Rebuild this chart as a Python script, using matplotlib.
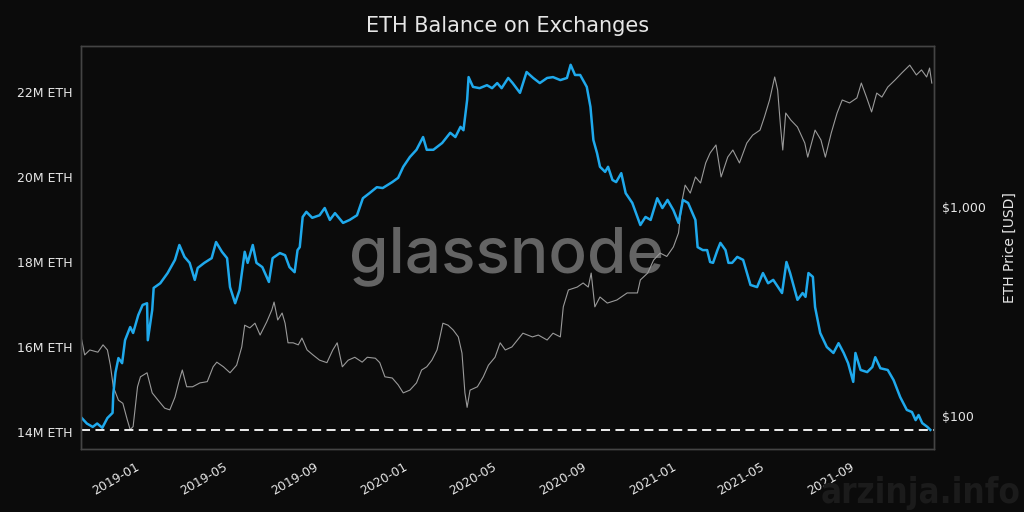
import pandas as pd
import matplotlib
matplotlib.use("Agg")
import matplotlib.pyplot as plt
import matplotlib.ticker as mticker
import matplotlib.dates as mdates

# ── data ────────────────────────────────────────────────────────
bal_dates = [
    "2018-10-11", "2018-10-18", "2018-10-26", "2018-11-01", "2018-11-08", "2018-11-15",
    "2018-11-22", "2018-11-23", "2018-11-26", "2018-11-30", "2018-12-05", "2018-12-09",
    "2018-12-16", "2018-12-20", "2018-12-27", "2019-01-02", "2019-01-08", "2019-01-09",
    "2019-01-15", "2019-01-17", "2019-01-26", "2019-02-05", "2019-02-15", "2019-02-21",
    "2019-02-28", "2019-03-07", "2019-03-14", "2019-03-18", "2019-03-27", "2019-04-06",
    "2019-04-12", "2019-04-20", "2019-04-27", "2019-05-01", "2019-05-08", "2019-05-14",
    "2019-05-21", "2019-05-25", "2019-06-01", "2019-06-06", "2019-06-14", "2019-06-23",
    "2019-06-28", "2019-07-08", "2019-07-15", "2019-07-21", "2019-07-28", "2019-08-01",
    "2019-08-04", "2019-08-08", "2019-08-13", "2019-08-21", "2019-08-31", "2019-09-07",
    "2019-09-14", "2019-09-21", "2019-10-02", "2019-10-11", "2019-10-21", "2019-10-29",
    "2019-11-07", "2019-11-17", "2019-11-25", "2019-12-08", "2019-12-16", "2019-12-23",
    "2020-01-01", "2020-01-10", "2020-01-19", "2020-01-24", "2020-02-02", "2020-02-14",
    "2020-02-25", "2020-03-03", "2020-03-10", "2020-03-14", "2020-03-19", "2020-03-21",
    "2020-03-27", "2020-04-05", "2020-04-15", "2020-04-22", "2020-04-29", "2020-05-05",
    "2020-05-14", "2020-05-20", "2020-05-30", "2020-06-08", "2020-06-17", "2020-06-26",
    "2020-07-06", "2020-07-14", "2020-07-24", "2020-08-02", "2020-08-07", "2020-08-13",
    "2020-08-20", "2020-08-29", "2020-09-03", "2020-09-07", "2020-09-12", "2020-09-16",
    "2020-09-23", "2020-09-27", "2020-10-03", "2020-10-08", "2020-10-15", "2020-10-21",
    "2020-10-30", "2020-11-06", "2020-11-10", "2020-11-17", "2020-11-24", "2020-12-03",
    "2020-12-10", "2020-12-17", "2020-12-25", "2021-01-01", "2021-01-07", "2021-01-14",
    "2021-01-20", "2021-01-24", "2021-01-27", "2021-02-03", "2021-02-09", "2021-02-13",
    "2021-02-17", "2021-02-23", "2021-02-27", "2021-03-06", "2021-03-10", "2021-03-15",
    "2021-03-22", "2021-03-30", "2021-04-09", "2021-04-18", "2021-04-26", "2021-05-03",
    "2021-05-10", "2021-05-22", "2021-05-28", "2021-06-02", "2021-06-12", "2021-06-19",
    "2021-06-23", "2021-06-27", "2021-07-03", "2021-07-06", "2021-07-13", "2021-07-22",
    "2021-07-31", "2021-08-07", "2021-08-14", "2021-08-20", "2021-08-27", "2021-08-30",
    "2021-09-06", "2021-09-15", "2021-09-22", "2021-09-26", "2021-10-03", "2021-10-13",
    "2021-10-21", "2021-10-30", "2021-11-08", "2021-11-15", "2021-11-20", "2021-11-24",
    "2021-11-29", "2021-12-06", "2021-12-10",
]
# ETH held on exchanges, millions
bal_values = [
    14.33, 14.20, 14.12, 14.20, 14.10, 14.33,
    14.45, 14.90, 15.40, 15.74, 15.62, 16.16,
    16.47, 16.33, 16.75, 16.99, 17.03, 16.16,
    16.87, 17.39, 17.50, 17.74, 18.05, 18.40,
    18.12, 17.98, 17.58, 17.86, 17.98, 18.09,
    18.47, 18.24, 18.09, 17.41, 17.03, 17.34,
    18.24, 17.98, 18.40, 17.98, 17.88, 17.53,
    18.09, 18.21, 18.16, 17.88, 17.76, 18.28,
    18.35, 19.06, 19.18, 19.04, 19.10, 19.27,
    18.99, 19.15, 18.92, 18.99, 19.10, 19.50,
    19.62, 19.76, 19.74, 19.88, 19.98, 20.24,
    20.47, 20.64, 20.94, 20.64, 20.64, 20.80,
    21.04, 20.94, 21.18, 21.10, 21.81, 22.35,
    22.12, 22.09, 22.16, 22.09, 22.21, 22.09,
    22.33, 22.21, 21.98, 22.47, 22.33, 22.21,
    22.33, 22.35, 22.28, 22.33, 22.64, 22.40,
    22.40, 22.12, 21.65, 20.87, 20.56, 20.24,
    20.12, 20.24, 19.93, 19.88, 20.09, 19.62,
    19.39, 19.06, 18.87, 19.06, 18.99, 19.50,
    19.27, 19.46, 19.22, 18.92, 19.46, 19.39,
    19.15, 18.99, 18.35, 18.28, 18.28, 18.00,
    17.98, 18.28, 18.45, 18.28, 17.98, 17.98,
    18.12, 18.05, 17.46, 17.41, 17.74, 17.50,
    17.58, 17.27, 18.00, 17.74, 17.11, 17.27,
    17.18, 17.74, 17.65, 16.94, 16.33, 16.00,
    15.86, 16.09, 15.86, 15.62, 15.18, 15.86,
    15.46, 15.41, 15.53, 15.76, 15.50, 15.46,
    15.22, 14.82, 14.52, 14.47, 14.28, 14.40,
    14.21, 14.12, 14.05,
]

price_dates = [
    "2018-10-11", "2018-10-15", "2018-10-22", "2018-11-02", "2018-11-09", "2018-11-15",
    "2018-11-19", "2018-11-23", "2018-11-30", "2018-12-06", "2018-12-12", "2018-12-16",
    "2018-12-20", "2018-12-26", "2018-12-30", "2019-01-08", "2019-01-15", "2019-01-23",
    "2019-02-01", "2019-02-08", "2019-02-15", "2019-02-21", "2019-02-25", "2019-03-03",
    "2019-03-11", "2019-03-21", "2019-03-31", "2019-04-08", "2019-04-13", "2019-04-22",
    "2019-05-01", "2019-05-10", "2019-05-17", "2019-05-21", "2019-05-28", "2019-06-04",
    "2019-06-11", "2019-06-20", "2019-06-27", "2019-06-30", "2019-07-05", "2019-07-11",
    "2019-07-15", "2019-07-19", "2019-07-26", "2019-08-02", "2019-08-07", "2019-08-14",
    "2019-08-22", "2019-08-31", "2019-09-10", "2019-09-18", "2019-09-24", "2019-10-01",
    "2019-10-09", "2019-10-18", "2019-10-28", "2019-11-04", "2019-11-15", "2019-11-21",
    "2019-11-28", "2019-12-08", "2019-12-16", "2019-12-23", "2020-01-01", "2020-01-10",
    "2020-01-17", "2020-01-24", "2020-01-31", "2020-02-07", "2020-02-11", "2020-02-15",
    "2020-02-22", "2020-02-29", "2020-03-07", "2020-03-12", "2020-03-16", "2020-03-19",
    "2020-03-23", "2020-04-02", "2020-04-10", "2020-04-17", "2020-04-26", "2020-05-03",
    "2020-05-10", "2020-05-19", "2020-06-03", "2020-06-16", "2020-06-24", "2020-07-06",
    "2020-07-14", "2020-07-24", "2020-07-28", "2020-08-04", "2020-08-16", "2020-08-24",
    "2020-08-31", "2020-09-04", "2020-09-09", "2020-09-16", "2020-09-26", "2020-10-09",
    "2020-10-23", "2020-11-06", "2020-11-10", "2020-11-20", "2020-11-28", "2020-12-07",
    "2020-12-16", "2020-12-25", "2021-01-01", "2021-01-06", "2021-01-10", "2021-01-17",
    "2021-01-24", "2021-01-31", "2021-02-07", "2021-02-13", "2021-02-21", "2021-02-28",
    "2021-03-09", "2021-03-16", "2021-03-25", "2021-04-04", "2021-04-12", "2021-04-22",
    "2021-04-28", "2021-05-05", "2021-05-12", "2021-05-16", "2021-05-20", "2021-05-23",
    "2021-05-27", "2021-06-03", "2021-06-12", "2021-06-22", "2021-06-26", "2021-07-06",
    "2021-07-14", "2021-07-20", "2021-07-28", "2021-08-05", "2021-08-12", "2021-08-22",
    "2021-09-01", "2021-09-07", "2021-09-14", "2021-09-21", "2021-09-28", "2021-10-05",
    "2021-10-13", "2021-10-23", "2021-11-01", "2021-11-12", "2021-11-21", "2021-11-28",
    "2021-12-05", "2021-12-09", "2021-12-12",
]
# ETH price, USD
price_values = [
    231, 196, 207, 202, 219, 207,
    175, 138, 119, 115, 96, 86,
    89, 138, 154, 161, 129, 119,
    109, 107, 123, 149, 166, 138,
    138, 144, 146, 172, 181, 172,
    161, 175, 214, 272, 264, 278,
    244, 282, 322, 351, 288, 311,
    278, 224, 224, 219, 236, 207,
    196, 185, 180, 207, 224, 172,
    185, 191, 181, 191, 189, 180,
    154, 152, 141, 129, 133, 144,
    166, 172, 185, 207, 239, 278,
    272, 258, 239, 200, 129, 110,
    133, 138, 154, 175, 191, 224,
    207, 214, 249, 239, 244, 231,
    249, 239, 333, 401, 414, 433,
    414, 483, 333, 371, 347, 359,
    388, 388, 448, 483, 557, 602,
    580, 644, 752, 1080, 1273, 1166,
    1393, 1303, 1625, 1813, 1981, 1393,
    1733, 1874, 1625, 2024, 2208, 2334,
    2697, 3252, 4190, 3631, 2415, 1874,
    2818, 2606, 2415, 2024, 1733, 2334,
    2094, 1733, 2259, 2818, 3252, 3148,
    3327, 3919, 3358, 2851, 3509, 3358,
    3750, 4055, 4375, 4775, 4285, 4530,
    4190, 4624, 3919,
]

# ── style ───────────────────────────────────────────────────────
BG = "#0b0b0b"
TXT = "#e6e6e6"
SPINE = "#444444"
BLUE = "#1fa9ec"
GREY = "#9a9a9a"

bal_x = pd.to_datetime(bal_dates)
price_x = pd.to_datetime(price_dates)

fig = plt.figure(figsize=(10.24, 5.12), dpi=100, facecolor=BG)
ax = fig.add_axes([0.0791, 0.123, 0.833, 0.787])
ax2 = ax.twinx()

# balance axis drawn above the price axis
ax.set_zorder(ax2.get_zorder() + 1)
ax.patch.set_visible(False)
ax2.set_facecolor(BG)

ax2.plot(price_x, price_values, color=GREY, linewidth=0.8)
ax.plot(bal_x, bal_values, color=BLUE, linewidth=1.8)
ax.axhline(min(bal_values), color="white", linestyle=(0, (5, 3)), linewidth=1.3)

ax.set_xlim(pd.Timestamp("2018-10-10"), pd.Timestamp("2021-12-15"))
ax.set_ylim(13.6, 23.08)
ax2.set_yscale("log")
ax2.set_ylim(69.5, 5890)

ax.yaxis.set_major_locator(mticker.MultipleLocator(2))
ax.yaxis.set_major_formatter(mticker.FuncFormatter(lambda v, p: f"{v:.0f}M ETH"))
ax2.yaxis.set_major_locator(mticker.LogLocator(base=10, numticks=10))
ax2.yaxis.set_minor_locator(mticker.NullLocator())
ax2.yaxis.set_major_formatter(mticker.FuncFormatter(lambda v, p: f"${v:,.0f}"))
ax2.set_ylabel("ETH Price [USD]", color=TXT, fontsize=10, labelpad=12)

ax.xaxis.set_major_locator(mdates.MonthLocator(bymonth=[1, 5, 9]))
ax.xaxis.set_major_formatter(mdates.DateFormatter("%Y-%m"))
for lab in ax.get_xticklabels():
    lab.set_rotation(30)
    lab.set_ha("right")

for a in (ax, ax2):
    a.tick_params(colors=TXT, labelsize=9, length=0, pad=6)
    for s in a.spines.values():
        s.set_color(SPINE)
        s.set_linewidth(1.0)
ax.tick_params(axis="x", pad=8)

ax.set_title("ETH Balance on Exchanges", color=TXT, fontsize=15, pad=10)

# watermarks
fig.text(0.495, 0.5, "glassnode", color="#646464", fontsize=46, ha="center",
         va="center", family="Inter", fontweight="medium", zorder=-1)
fig.text(0.997, 0.004, "arzinja.info", color="#1b1b1b", fontsize=25, ha="right",
         va="bottom", family="DejaVu Sans", fontstretch="condensed",
         fontweight="bold", zorder=5)

fig.savefig("out.png", dpi=100, facecolor=BG)
